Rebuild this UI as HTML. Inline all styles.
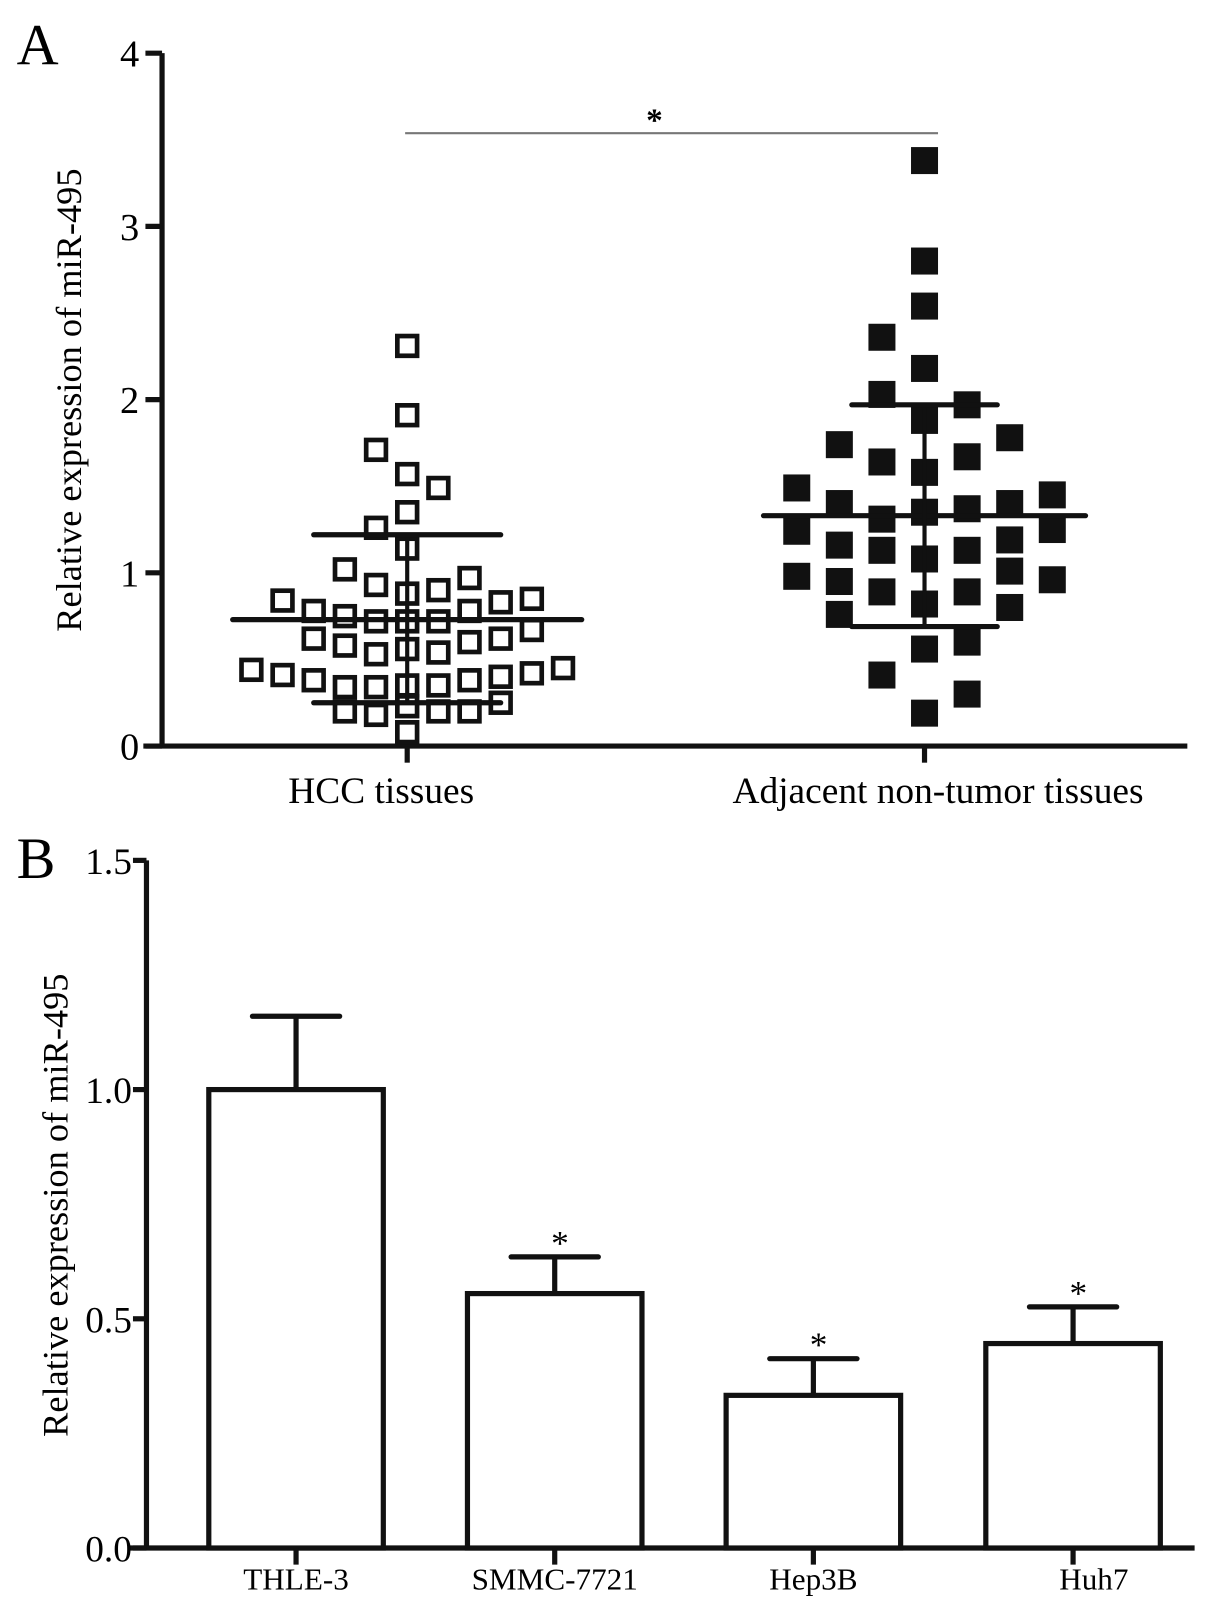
<!DOCTYPE html>
<html><head><meta charset="utf-8"><style>
html,body{margin:0;padding:0;background:#fff;}
svg{display:block;font-family:"Liberation Serif",serif;}
</style></head><body>
<svg id="fig" width="1205" height="1623" viewBox="0 0 1160 1562" xmlns="http://www.w3.org/2000/svg">
<g id="panelA"></g>
<g id="panelB"></g>
</svg>
<script>
// ---- Panel A data ----
const hccSlots = [0,0,0,0,0,0,0,0,0,0,0, -1,-1,-1,-1,-1,-1,-1, 1,1,1,1,1,1, -2,-2,-2,-2,-2, 2,2,2,2,2, -3,-3,-3, 3,3,3,3, -4,-4, 4,4,4, -5, 5];
const hccValues = [2.31,1.91,1.57,1.35,1.14,0.88,0.72,0.56,0.35,0.23,0.08, 1.71,1.26,0.93,0.72,0.53,0.34,0.18, 1.49,0.90,0.72,0.54,0.35,0.20, 1.02,0.75,0.58,0.34,0.20, 0.97,0.78,0.60,0.38,0.20, 0.78,0.62,0.38, 0.83,0.62,0.40,0.25, 0.84,0.41, 0.85,0.67,0.42, 0.44, 0.45];
const hccStats = {mean:0.73, upper:1.22, lower:0.25};
const adjSlots = [0,0,0,0,0,0,0,0,0,0,0, -1,-1,-1,-1,-1,-1,-1, 1,1,1,1,1,1,1, -2,-2,-2,-2,-2, 2,2,2,2,2, -3,-3,-3, 3,3,3];
const adjValues = [3.38,2.80,2.54,2.18,1.88,1.58,1.35,1.08,0.82,0.56,0.19, 2.36,2.03,1.64,1.31,1.13,0.89,0.41, 1.97,1.67,1.37,1.13,0.89,0.60,0.30, 1.74,1.40,1.16,0.95,0.76, 1.78,1.40,1.19,1.01,0.80, 1.49,1.24,0.98, 1.45,1.25,0.96];
const adjStats = {mean:1.33, upper:1.97, lower:0.69};
const aTicks = [0,1,2,3,4];
const aCategories = ["HCC tissues","Adjacent non-tumor tissues"];
// ---- Panel B data ----
const bCategories = ["THLE-3","SMMC-7721","Hep3B","Huh7"];
const bValues = [1.0,0.555,0.333,0.446];
const bErrors = [0.16,0.08,0.08,0.08];
const bSig = [false,true,true,true];
const bTicks = ["0.0","0.5","1.0","1.5"];

const NS="http://www.w3.org/2000/svg";
function mk(parent,tag,attrs,text){const e=document.createElementNS(NS,tag);for(const k in attrs)e.setAttribute(k,attrs[k]);if(text!==undefined)e.textContent=text;parent.appendChild(e);return e;}

// Panel A
const A=document.getElementById('panelA');
const yA=v=>718-v*166.75;
const xCenters=[392,890];
const slotW=[30,41];
let t;
t=mk(A,'text',{x:16,y:62,'font-size':56});t.textContent='A';


t=mk(A,'text',{x:0,y:0,'font-size':35,'text-anchor':'middle',transform:'translate(78,385) rotate(-90)'},'Relative expression of miR-495');


t=mk(A,'line',{x1:156,y1:yA(4),x2:156,y2:yA(0)+2,stroke:'#111','stroke-width':5});


t=mk(A,'line',{x1:138,y1:yA(0),x2:1143,y2:yA(0),stroke:'#111','stroke-width':5});


aTicks.forEach(v=>{
  t=mk(A,'line',{x1:140,y1:yA(v),x2:156,y2:yA(v),stroke:'#111','stroke-width':5});
  
  
  t=mk(A,'text',{x:134,y:yA(v)+13,'font-size':37,'text-anchor':'end'},String(v));
  
  
});
aCategories.forEach((c,i)=>{
  t=mk(A,'line',{x1:xCenters[i],y1:yA(0),x2:xCenters[i],y2:yA(0)+16,stroke:'#111','stroke-width':5});
  
  
  t=mk(A,'text',{x:i===0?367:903,y:773,'font-size':36,'text-anchor':'middle'},c);
  
  
});
// significance
t=mk(A,'line',{x1:390,y1:128,x2:903,y2:128,stroke:'#777','stroke-width':2});


t=mk(A,'text',{x:630,y:126,'font-size':32,'font-weight':'bold','text-anchor':'middle'},'*');


// points
hccValues.forEach((v,i)=>{
  const x=xCenters[0]+hccSlots[i]*slotW[0];
  t=mk(A,'rect',{x:x-9.5,y:yA(v)-9.5,width:19,height:19,fill:'none',stroke:'#111','stroke-width':4.5});
  
  
});
adjValues.forEach((v,i)=>{
  const x=xCenters[1]+adjSlots[i]*slotW[1];
  t=mk(A,'rect',{x:x-13,y:yA(v)-13,width:26,height:26,fill:'#111'});
  
  
});
[[hccStats,0,168,90],[adjStats,1,155,70]].forEach(([s,i,mw,sw])=>{
  const cx=xCenters[i];
  t=mk(A,'line',{x1:cx-mw,y1:yA(s.mean),x2:cx+mw,y2:yA(s.mean),stroke:'#111','stroke-width':5,'stroke-linecap':'round'});
  
  
  t=mk(A,'line',{x1:cx,y1:yA(s.upper),x2:cx,y2:yA(s.lower),stroke:'#111','stroke-width':4});
  
  
  [s.upper,s.lower].forEach(v=>{
    t=mk(A,'line',{x1:cx-sw,y1:yA(v),x2:cx+sw,y2:yA(v),stroke:'#111','stroke-width':5,'stroke-linecap':'round'});
    
    
  });
});

// Panel B
const B=document.getElementById('panelB');
const yB=v=>1490-v*441.3;
const bx=[285,534,783,1033];
const bw=168;
t=mk(B,'text',{x:16,y:845,'font-size':56},'B');


t=mk(B,'text',{x:0,y:0,'font-size':35,'text-anchor':'middle',transform:'translate(65,1160) rotate(-90)'},'Relative expression of miR-495');


t=mk(B,'line',{x1:141,y1:yB(1.5),x2:141,y2:yB(0)+2,stroke:'#111','stroke-width':5});


t=mk(B,'line',{x1:125,y1:yB(0),x2:1150,y2:yB(0),stroke:'#111','stroke-width':5});


bTicks.forEach(s=>{
  const v=parseFloat(s);
  t=mk(B,'line',{x1:128,y1:yB(v),x2:141,y2:yB(v),stroke:'#111','stroke-width':5});
  
  
  t=mk(B,'text',{x:127,y:yB(v)+13,'font-size':36,'text-anchor':'end'},s);
  
  
});
bCategories.forEach((c,i)=>{
  const cx=bx[i];
  t=mk(B,'line',{x1:cx,y1:yB(bValues[i]+bErrors[i]),x2:cx,y2:yB(bValues[i]),stroke:'#111','stroke-width':5});
  
  
  t=mk(B,'line',{x1:cx-42,y1:yB(bValues[i]+bErrors[i]),x2:cx+42,y2:yB(bValues[i]+bErrors[i]),stroke:'#111','stroke-width':5,'stroke-linecap':'round'});
  
  
  t=mk(B,'rect',{x:cx-bw/2,y:yB(bValues[i]),width:bw,height:yB(0)-yB(bValues[i]),fill:'#fff',stroke:'#111','stroke-width':5});
  
  
  if(bSig[i]){
    t=mk(B,'text',{x:cx+5,y:yB(bValues[i]+bErrors[i])-2,'font-size':34,'text-anchor':'middle'},'*');
    
    
  }
  t=mk(B,'line',{x1:cx,y1:yB(0),x2:cx,y2:yB(0)+16,stroke:'#111','stroke-width':5});
  
  
  t=mk(B,'text',{x:cx+(i===3?20:0),y:1530,'font-size':30,'text-anchor':'middle'},c);
  
  
});
</script>
</body></html>
